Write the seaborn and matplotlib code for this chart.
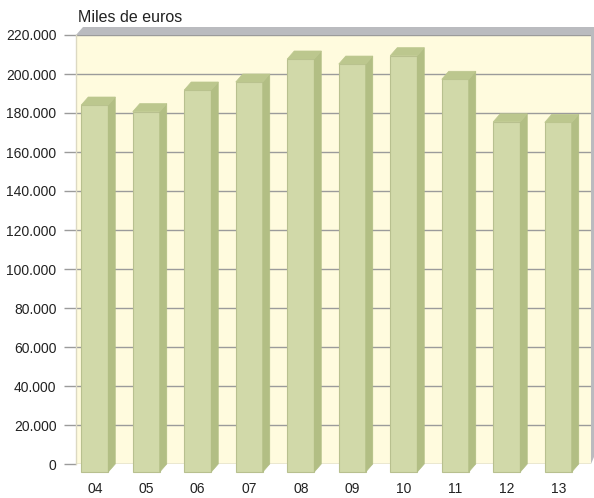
import matplotlib
matplotlib.use("Agg")
import matplotlib.pyplot as plt
import seaborn as sns
import pandas as pd
from matplotlib.patches import Polygon
from matplotlib.transforms import ScaledTranslation

# ---- data ----
years = ["04", "05", "06", "07", "08", "09", "10", "11", "12", "13"]
values = [188200, 184800, 195900, 200000, 211800, 209200, 213500, 201400, 179600, 179300]
yticks = list(range(0, 220001, 20000))
ytick_labels = [f"{v:,}".replace(",", ".") for v in yticks]
title = "Miles de euros"

df = pd.DataFrame({"year": years, "value": values})

sns.set_theme(style="white")
plt.rcParams['font.family'] = ['Liberation Sans Narrow', 'Liberation Sans', 'DejaVu Sans']

W, H = 594, 498
fig = plt.figure(figsize=(W / 100, H / 100), dpi=100)
L, R, T, B = 76, 591, 35, 464
ax = fig.add_axes([L / W, 1 - B / H, (R - L) / W, (B - T) / H])
ax.set_facecolor('#fffbde')

# wall thickness (gray band on top and right)
def fp(x, y):
    return (x / W, 1 - y / H)

band = Polygon([fp(76, 35), fp(83, 27), fp(594, 27), fp(594, 457), fp(591, 464), fp(591, 35)],
               closed=True, transform=fig.transFigure, facecolor='#babbbf', edgecolor='none', zorder=-1)
fig.patches.append(band)

front_c = '#d1d9a9'
edge_c = '#b8c08f'
side_c = '#b2be84'
top_c = '#bcc78e'

sns.barplot(data=df, x="year", y="value", color=front_c, width=27 / 51.5,
            saturation=1, edgecolor=edge_c, linewidth=0.8, ax=ax, zorder=3)

ax.set_xlim(-0.5, len(years) - 0.5)
ax.set_ylim(0, 220000)
ax.set_xlabel("")
ax.set_ylabel("")

dx = 7 / ((R - L) / len(years))
dy = 8 * 220000 / (B - T)

bars = list(ax.patches)
for p in bars:
    x0, w, h = p.get_x(), p.get_width(), p.get_height()
    p.set_x(x0 - dx)
    p.set_y(-dy)
    p.set_clip_on(False)
    side = Polygon([(x0 + w - dx, -dy), (x0 + w - dx, h - dy), (x0 + w, h), (x0 + w, 0)],
                   closed=True, facecolor=side_c, edgecolor=side_c, lw=0.5, zorder=3, clip_on=False)
    top = Polygon([(x0 - dx, h - dy), (x0 + w - dx, h - dy), (x0 + w, h), (x0, h)],
                  closed=True, facecolor=top_c, edgecolor=top_c, lw=0.5, zorder=3, clip_on=False)
    ax.add_patch(side)
    ax.add_patch(top)

ax.set_yticks(yticks)
ax.set_yticklabels(ytick_labels)
ax.yaxis.grid(True, color='#9b9b9b', lw=1.0)
ax.xaxis.grid(False)
ax.set_axisbelow(True)
for s in ["top", "right", "bottom"]:
    ax.spines[s].set_visible(False)
ax.spines["left"].set_color('#dcd9c2')
ax.spines["left"].set_linewidth(1.0)

ax.tick_params(axis='y', left=True, length=9, width=1.0, color='#9b9b9b', pad=5,
               labelsize=10, labelcolor='#222222')
ax.tick_params(axis='x', bottom=False, length=0, pad=13, labelsize=10, labelcolor='#222222')

off = ScaledTranslation(-7 / 100, 0, fig.dpi_scale_trans)
for lab in ax.get_xticklabels():
    lab.set_transform(lab.get_transform() + off)

fig.text(78 / W, 1 - 22 / H, title, fontsize=11.5, family=['Liberation Sans', 'DejaVu Sans'],
         va='baseline', ha='left', color='#222222')

fig.savefig("out.png", dpi=100)
